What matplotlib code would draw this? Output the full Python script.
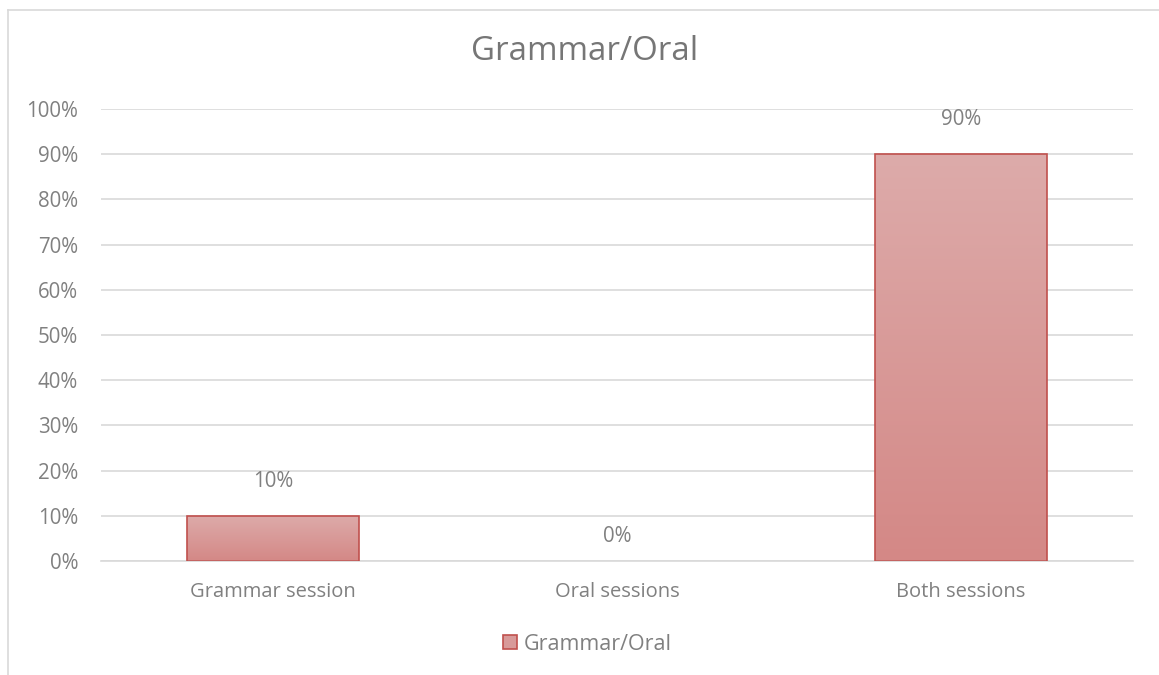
import matplotlib
matplotlib.use("Agg")
import matplotlib.pyplot as plt
import numpy as np
from matplotlib.lines import Line2D
from matplotlib.patches import Patch
from matplotlib.colors import LinearSegmentedColormap

categories = ["Grammar session", "Oral sessions", "Both sessions"]
values = [10, 0, 90]
labels = ["10%", "0%", "90%"]
yticks = [0, 10, 20, 30, 40, 50, 60, 70, 80, 90, 100]
series_name = "Grammar/Oral"
title = "Grammar/Oral"

W, H = 1159, 675
fig = plt.figure(figsize=(W / 100, H / 100), dpi=100)
plt.rcParams['font.family'] = ['Open Sans', 'DejaVu Sans']
txt = "#808080"

# chart border (left and top only visible)
fig.add_artist(Line2D([8 / W, 8 / W], [0, 1 - 10 / H], transform=fig.transFigure, color="#d9d9d9", lw=1.2))
fig.add_artist(Line2D([8 / W, 1], [1 - 10 / H, 1 - 10 / H], transform=fig.transFigure, color="#d9d9d9", lw=1.2))

left, right = 101 / W, 1133 / W
bottom, top = 1 - 561 / H, 1 - 109 / H
ax = fig.add_axes([left, bottom, right - left, top - bottom])

x = np.arange(len(categories))
bars = ax.bar(x, values, width=0.5, color="none", edgecolor="#c0504d", linewidth=1.2, zorder=3)
cmap = LinearSegmentedColormap.from_list("g", ["#d48886", "#ddabaa"])
grad = np.linspace(0, 1, 256).reshape(-1, 1)
for b in bars:
    h = b.get_height()
    if h <= 0:
        b.set_visible(False)
        continue
    x0 = b.get_x()
    im = ax.imshow(grad, cmap=cmap, aspect="auto", origin="lower",
                   extent=[x0, x0 + b.get_width(), 0, h], zorder=2)
    im.set_clip_path(b)

ax.set_xlim(-0.5, len(categories) - 0.5)
ax.set_ylim(0, 100)
ax.set_yticks(yticks)
ax.set_yticklabels([f"{t}%" for t in yticks])
ax.set_xticks(x)
ax.set_xticklabels(categories)
ax.grid(axis="y", color="#d9d9d9", lw=1.2, zorder=0)
ax.set_axisbelow(True)
for s in ["top", "right", "left"]:
    ax.spines[s].set_visible(False)
ax.spines["bottom"].set_color("#d9d9d9")
ax.spines["bottom"].set_linewidth(1.2)
ax.tick_params(axis="y", length=0, colors=txt, labelsize=14.8, pad=16.5)
ax.tick_params(axis="x", length=0, colors=txt, labelsize=14.5, pad=15)

for xi, v, lab in zip(x, values, labels):
    off = 25 if v > 0 else 18
    ax.annotate(lab, (xi, v), xytext=(0, off), textcoords="offset points",
                ha="center", va="center", color=txt, fontsize=14.8)

fig.text(0.504, 1 - 52 / H, title, ha="center", va="center", color="#767676", fontsize=23.8)

handle = Patch(facecolor="#d89a99", edgecolor="#c0504d", linewidth=1.2)
fig.legend([handle], [series_name], loc="center", bbox_to_anchor=(0.507, 1 - 644 / H),
           frameon=False, fontsize=15.5, labelcolor=txt, handlelength=0.65, handleheight=0.65,
           handletextpad=0.3)

fig.savefig("out.png", dpi=100)
